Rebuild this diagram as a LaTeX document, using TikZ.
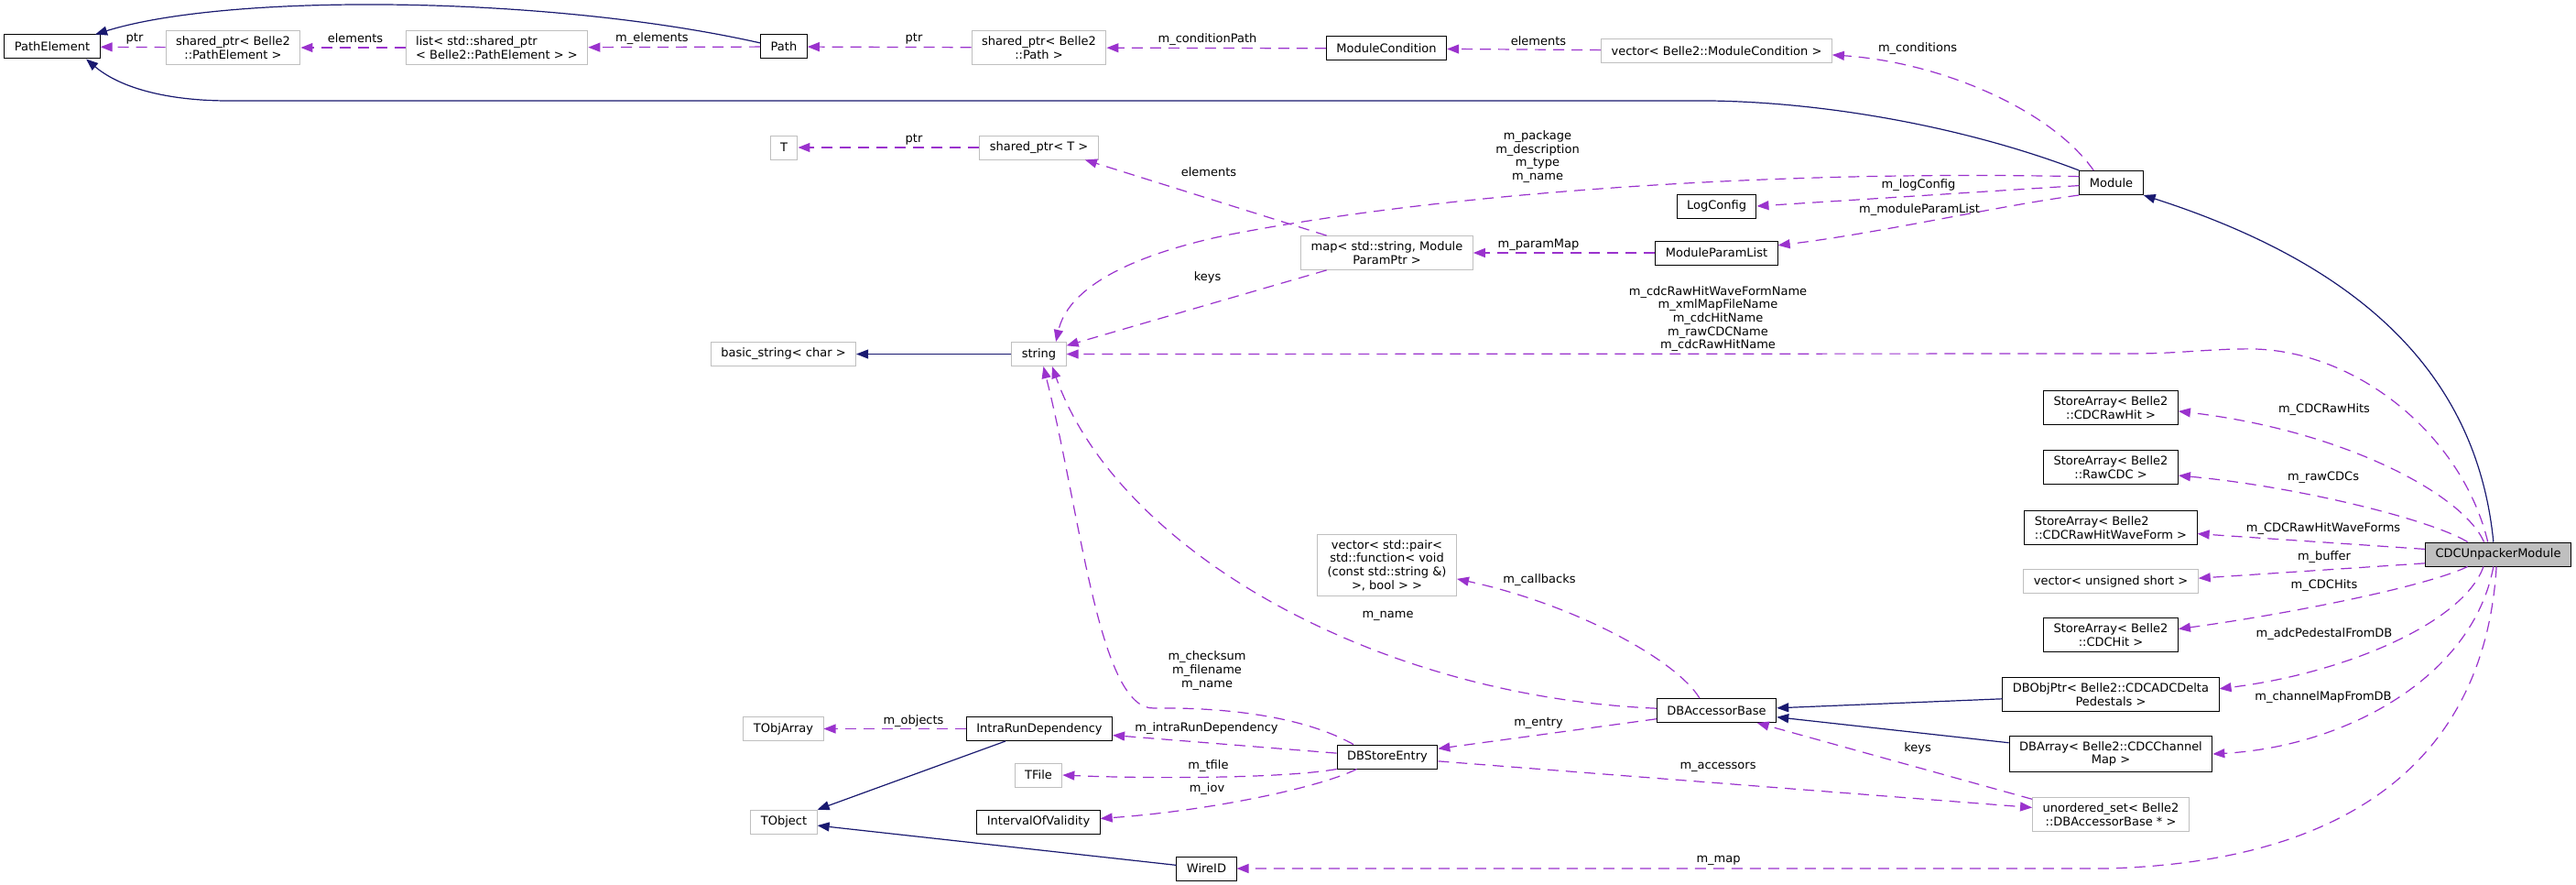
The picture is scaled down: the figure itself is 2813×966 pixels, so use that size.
\documentclass[tikz,border=0pt]{standalone}
\usepackage{fontspec}
\setmainfont{DejaVu Sans}
\usetikzlibrary{arrows.meta}
\definecolor{inhblue}{HTML}{191970}
\definecolor{usepurple}{HTML}{9A32CD}
\definecolor{boxgray}{HTML}{BFBFBF}
\tikzset{
>={Triangle[length=13pt,width=10pt]},
every node/.style={font=\fontsize{13}{14.7}\selectfont},
cls/.style={draw=black, line width=1pt, fill=white, inner xsep=11pt, inner ysep=6pt, minimum height=26pt, align=center},
ext/.style={cls, draw=boxgray},
focus/.style={cls, fill=boxgray},
inherit/.style={->, draw=inhblue, line width=1.2pt},
uses/.style={->, draw=usepurple, line width=1.2pt, dash pattern=on 12pt off 8pt},
lbl/.style={inner sep=0pt, align=center},
}

\begin{document}
\begin{tikzpicture}[x=1pt, y=-1pt]
    \path[use as bounding box, fill=white] (0,0) rectangle (2813,966);

    \node[cls] (pe) at (57,51) {PathElement};
    \node[ext] (spe) at (254.5,52) {shared\_ptr< Belle2\\::PathElement >};
    \node[ext, align=left] (lpe) at (542.5,52) {list< std::shared\_ptr\\< Belle2::PathElement > >};
    \node[cls] (path) at (856,51) {Path};
    \node[ext] (sppath) at (1134.5,52) {shared\_ptr< Belle2\\::Path >};
    \node[cls] (mcond) at (1514,53) {ModuleCondition};
    \node[ext] (vmc) at (1874.5,55.5) {vector< Belle2::ModuleCondition >};
    \node[cls] (module) at (2305.5,199.5) {Module};
    \node[ext] (t) at (856,161) {T};
    \node[ext] (spt) at (1134.5,161) {shared\_ptr< T >};
    \node[cls] (logcfg) at (1874.5,225) {LogConfig};
    \node[ext] (pmap) at (1514.5,276) {map< std::string, Module\\ParamPtr >};
    \node[cls] (mpl) at (1874.5,276) {ModuleParamList};
    \node[ext] (bstr) at (855.5,386.5) {basic\_string< char >};
    \node[ext] (str) at (1134.5,386.5) {string};
    \node[cls] (rawhit) at (2305,445) {StoreArray< Belle2\\::CDCRawHit >};
    \node[cls] (rawcdc) at (2305,510) {StoreArray< Belle2\\::RawCDC >};
    \node[cls, align=left] (wave) at (2305,576) {StoreArray< Belle2\\::CDCRawHitWaveForm >};
    \node[focus] (cdc) at (2728,605) {CDCUnpackerModule};
    \node[ext] (buffer) at (2305,634.5) {vector< unsigned short >};
    \node[ext] (vcb) at (1514.5,617) {vector< std::pair<\\ std::function< void\\(const std::string \&)\\>, bool > >};
    \node[cls] (cdchit) at (2305,693) {StoreArray< Belle2\\::CDCHit >};
    \node[cls] (dbobj) at (2305,758) {DBObjPtr< Belle2::CDCADCDelta\\Pedestals >};
    \node[cls] (dbacc) at (1874.5,775.5) {DBAccessorBase};
    \node[cls] (dbarr) at (2305,823) {DBArray< Belle2::CDCChannel\\Map >};
    \node[ext] (tobjarr) at (855.5,795.5) {TObjArray};
    \node[cls] (intra) at (1135,795.5) {IntraRunDependency};
    \node[cls] (entry) at (1515,826) {DBStoreEntry};
    \node[ext] (tfile) at (1134,846) {TFile};
    \node[ext] (uset) at (2305,889) {unordered\_set< Belle2\\::DBAccessorBase * >};
    \node[ext] (tobj) at (856,897) {TObject};
    \node[cls] (iov) at (1134,897) {IntervalOfValidity};
    \node[cls] (wire) at (1317.5,948) {WireID};

    \draw[inherit] (path.171) .. controls (600,-5) and (250,-8) .. (pe.16);
    \draw[inherit] (module.north west) .. controls (2150,140) and (2000,112) .. (1868,110) -- (250,110) .. controls (180,110) and (130,95) .. (pe.-20);
    \draw[inherit] (cdc.111) .. controls (2705,410) and (2580,290) .. (module.south east);
    \draw[inherit] (str) -- (bstr);
    \draw[inherit] (intra) -- (tobj);
    \draw[inherit] (wire) -- (tobj);
    \draw[inherit] (dbobj) -- (dbacc);
    \draw[inherit] (dbarr) -- (dbacc);

    \draw[uses] (spe) -- (pe) node[lbl] at (147,42) {ptr};
    \draw[uses] (lpe) -- (spe) node[lbl] at (388,42) {elements};
    \draw[uses] (path) -- (lpe) node[lbl] at (712,42) {m\_elements};
    \draw[uses] (sppath) -- (path) node[lbl] at (998,42) {ptr};
    \draw[uses] (mcond) -- (sppath) node[lbl] at (1318.5,43) {m\_conditionPath};
    \draw[uses] (vmc) -- (mcond) node[lbl] at (1680,45) {elements};
    \draw[uses] (module.145) .. controls (2240,120) and (2120,68) .. (vmc.-2) node[lbl] at (2094,53) {m\_conditions};
    \draw[uses] (spt) -- (t) node[lbl] at (998,152) {ptr};
    \draw[uses] (pmap.164) -- (spt.-15) node[lbl] at (1320,188) {elements};
    \draw[uses] (pmap.-164) -- (str.17) node[lbl] at (1318.5,303) {keys};
    \draw[uses] (module.169) .. controls (1900,185) and (1550,215) .. (1338,257) .. controls (1220,282) and (1165,320) .. (str.36) node[lbl] at (1679,171) {m\_package\\m\_description\\m\_type\\m\_name};
    \draw[uses] (module.185) -- (logcfg.east) node[lbl] at (2095,202) {m\_logConfig};
    \draw[uses] (module.south west) .. controls (2180,225) and (2050,255) .. (mpl.7) node[lbl] at (2096,229) {m\_moduleParamList};
    \draw[uses] (mpl) -- (pmap) node[lbl] at (1680,267) {m\_paramMap};
    \draw[uses] (cdc.130) .. controls (2690,480) and (2580,385) .. (2463,381) .. controls (2420,380) and (2380,386) .. (2330,386) -- (str.east) node[lbl] at (1876,348) {m\_cdcRawHitWaveFormName\\m\_xmlMapFileName\\m\_cdcHitName\\m\_rawCDCName\\m\_cdcRawHitName};
    \draw[uses] (cdc.139) .. controls (2690,540) and (2560,470) .. (rawhit.-3) node[lbl] at (2538,447) {m\_CDCRawHits};
    \draw[uses] (cdc.158) .. controls (2650,565) and (2500,530) .. (rawcdc.-7) node[lbl] at (2537,521) {m\_rawCDCs};
    \draw[uses] (cdc.176) -- (wave.-4) node[lbl] at (2537,577) {m\_CDCRawHitWaveForms};
    \draw[uses] (cdc.187) -- (buffer.2) node[lbl] at (2538,608) {m\_buffer};
    \draw[uses] (cdc.-158) .. controls (2650,640) and (2500,670) .. (cdchit.5) node[lbl] at (2538,639) {m\_CDCHits};
    \draw[uses] (cdc.-140) .. controls (2690,680) and (2560,735) .. (dbobj.3) node[lbl] at (2538,692) {m\_adcPedestalFromDB};
    \draw[uses] (cdc.-111) .. controls (2700,740) and (2560,815) .. (dbarr.east) node[lbl] at (2537,761) {m\_channelMapFromDB};
    \draw[uses] (cdc.-98) .. controls (2715,800) and (2600,940) .. (2300,948) -- (wire.east) node[lbl] at (1876.5,939) {m\_map};
    \draw[uses] (dbacc.144) .. controls (1830,720) and (1720,660) .. (vcb.-11) node[lbl] at (1681,633) {m\_callbacks};
    \draw[uses] (dbacc.178) .. controls (1500,760) and (1220,600) .. (str.-43) node[lbl] at (1515.5,672) {m\_name};
    \draw[uses] (dbacc.188) -- (entry.9) node[lbl] at (1680,789) {m\_entry};
    \draw[uses] (entry.160) .. controls (1420,780) and (1330,772) .. (1260,773) .. controls (1200,775) and (1180,560) .. (str.-70) node[lbl] at (1318,732) {m\_checksum\\m\_filename\\m\_name};
    \draw[uses] (entry.176) -- (intra.-5) node[lbl] at (1317.5,795) {m\_intraRunDependency};
    \draw[uses] (entry.south west) .. controls (1400,850) and (1250,850) .. (tfile.east) node[lbl] at (1319.5,836) {m\_tfile};
    \draw[uses] (entry.-158) .. controls (1440,860) and (1320,885) .. (iov.3) node[lbl] at (1318,861) {m\_iov};
    \draw[uses] (entry.-5) -- (uset.175) node[lbl] at (1876,837) {m\_accessors};
    \draw[uses] (uset.169) -- (dbacc.-17) node[lbl] at (2094,817) {keys};
    \draw[uses] (intra) -- (tobjarr) node[lbl] at (997.5,787) {m\_objects};
\end{tikzpicture}
\end{document}
